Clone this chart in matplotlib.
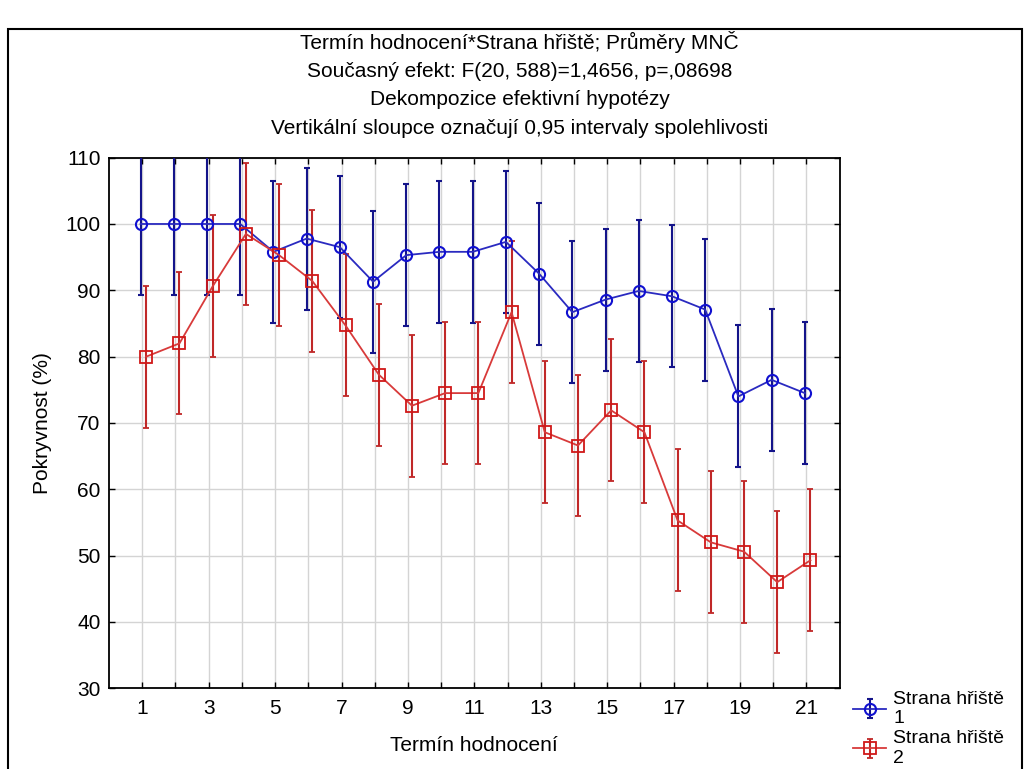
import matplotlib
matplotlib.use("Agg")
import matplotlib.pyplot as plt
import numpy as np
from matplotlib.patches import Rectangle

plt.rcParams["font.family"] = ["Liberation Sans", "DejaVu Sans"]

# Termín hodnocení 1..21
terms = np.arange(1, 22)
side1_mean = [100, 100, 100, 100, 95.8, 97.8, 96.5, 91.3, 95.3, 95.8, 95.8,
              97.3, 92.5, 86.7, 88.6, 89.9, 89.1, 87.1, 74.0, 76.5, 74.5]
side2_mean = [80.0, 82.0, 90.6, 98.5, 95.3, 91.4, 84.7, 77.3, 72.6, 74.5, 74.5,
              86.7, 68.6, 66.6, 71.9, 68.6, 55.3, 52.0, 50.6, 46.0, 49.3]
ci_half = [10.7] * 21

titles = [
    "Termín hodnocení*Strana hřiště; Průměry MNČ",
    "Současný efekt: F(20, 588)=1,4656, p=,08698",
    "Dekompozice efektivní hypotézy",
    "Vertikální sloupce označují 0,95 intervaly spolehlivosti",
]

fig = plt.figure(figsize=(10.29, 7.69), dpi=100)
fig.patches.append(Rectangle((0.008, -0.01), 0.985, 0.972, transform=fig.transFigure,
                             fill=False, edgecolor="black", linewidth=1.5))

ax = fig.add_axes([0.106, 0.105, 0.71, 0.69])

blue = "#2a2ac0"
blue_err = "#14148a"
red = "#d83a3a"
red_err = "#c02828"

h1 = ax.errorbar(terms - 0.05, side1_mean, yerr=ci_half, color=blue, ecolor=blue_err,
                 elinewidth=1.5, capsize=2.5, capthick=1.2, marker="o", markersize=8,
                 markerfacecolor="none", markeredgecolor="#1010d0", markeredgewidth=1.5,
                 linewidth=1.3, label="Strana hřiště\n1", zorder=3)
h2 = ax.errorbar(terms + 0.12, side2_mean, yerr=ci_half, color=red, ecolor=red_err,
                 elinewidth=1.5, capsize=2.5, capthick=1.2, marker="s", markersize=8,
                 markerfacecolor="none", markeredgecolor="#d01818", markeredgewidth=1.3,
                 linewidth=1.3, label="Strana hřiště\n2", zorder=3)

ax.set_xlim(0, 22)
ax.set_ylim(30, 110)
ax.set_xticks(np.arange(1, 22, 2))
ax.set_xticks(np.arange(2, 22, 2), minor=True)
ax.set_yticks(np.arange(30, 111, 10))
ax.tick_params(axis="both", which="both", direction="in", top=True, right=True,
               labelsize=15, length=4, width=1)
ax.tick_params(axis="x", which="both", pad=8)
ax.tick_params(axis="y", pad=6)
ax.grid(True, which="both", color="#d4d4d4", linewidth=1)
ax.set_axisbelow(True)
for sp in ax.spines.values():
    sp.set_linewidth(1.3)

ax.set_xlabel("Termín hodnocení", fontsize=15, labelpad=13)
ax.set_ylabel("Pokryvnost (%)", fontsize=15, labelpad=10)

for i, t in enumerate(titles):
    fig.text(0.505, 0.945 - i * 0.0375, t, ha="center", va="center", fontsize=15)

ax.legend(handles=[h1, h2], loc="upper left", bbox_to_anchor=(1.008, 0.01),
          frameon=False, fontsize=14, handlelength=1.7, handletextpad=0.35,
          labelspacing=0.15, borderaxespad=0)

fig.savefig("out.png", dpi=100)
